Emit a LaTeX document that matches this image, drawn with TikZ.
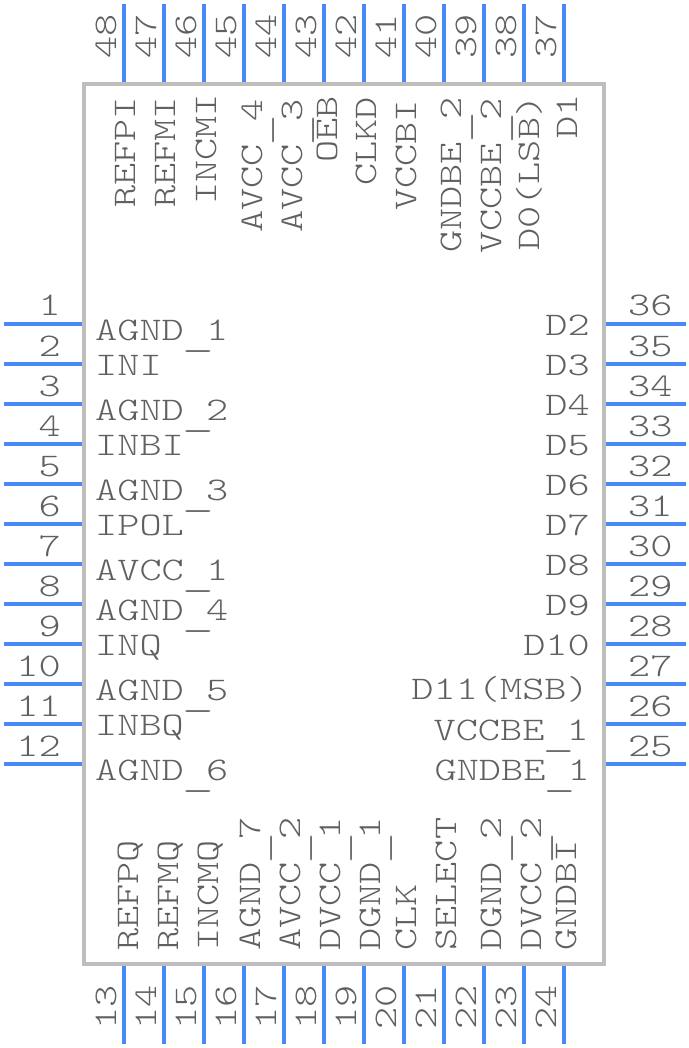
\documentclass[tikz,border=0pt]{standalone}
\usepackage{fontspec}
\setmonofont[FakeStretch=1.28]{Latin Modern Mono Light}
\definecolor{pinblue}{HTML}{4689FA}
\definecolor{bodygray}{HTML}{BEBEBE}
\definecolor{txtgray}{HTML}{606060}
\newcommand{\lowbar}{\raisebox{-6pt}{\makebox[0pt][l]{\hspace*{-2pt}\scalebox{1.45}[1]{\_}}}\hspace{0.525em}\hspace{0.147em}}
\tikzset{
  pinline/.style={draw=pinblue,line width=4pt},
  bodybox/.style={draw=bodygray,line width=4pt,fill=white,inner sep=0pt,minimum width=520pt,minimum height=880pt},
  lab/.style={text=txtgray,inner sep=0pt,font=\ttfamily\fontsize{33}{33}\selectfont},
  labL/.style={lab,anchor=base west},
  labR/.style={lab,anchor=base east},
  labV/.style={lab,anchor=base west,rotate=90}
}
\begin{document}
\begin{tikzpicture}[x=1pt,y=-1pt]
\useasboundingbox (0,0) rectangle (688,1048);
\node[bodybox] (body) at (344,524) {};
% left and right pins
\foreach \i in {0,...,11}{
  \pgfmathsetmacro{\yy}{324+40*\i}
  \coordinate (la\i) at (4,\yy); \coordinate (lb\i) at (82,\yy);
  \coordinate (ra\i) at (606,\yy); \coordinate (rb\i) at (686,\yy);
  \draw[pinline] (la\i) -- (lb\i);
  \draw[pinline] (ra\i) -- (rb\i);
}
% top and bottom pins
\foreach \i in {0,...,11}{
  \pgfmathsetmacro{\xx}{124+40*\i}
  \coordinate (ta\i) at (\xx,4); \coordinate (tb\i) at (\xx,82);
  \coordinate (ba\i) at (\xx,966); \coordinate (bb\i) at (\xx,1044);
  \draw[pinline] (ta\i) -- (tb\i);
  \draw[pinline] (ba\i) -- (bb\i);
}
% pin numbers
\foreach \i [count=\k from 0] in {1,...,12}{
  \node[labR] (nl\i) at (61,316+40*\k) {\i};
}
\foreach \i [count=\k from 0] in {36,35,...,25}{
  \node[labL] (nr\i) at (628,316+40*\k) {\i};
}
\foreach \i [count=\k from 0] in {48,47,...,37}{
  \node[labV] (nt\i) at (116+40*\k,59) {\i};
}
\foreach \i [count=\k from 0] in {13,14,...,24}{
  \node[labV] (nb\i) at (116+40*\k,1030) {\i};
}
% left labels
\foreach \yy/\t [count=\k] in {
  340/AGND\lowbar 1,375/INI,420/AGND\lowbar 2,455/INBI,500/AGND\lowbar 3,535/IPOL,
  580/AVCC\lowbar 1,620/AGND\lowbar 4,655/INQ,700/AGND\lowbar 5,735/INBQ,780/AGND\lowbar 6}{
  \node[labL] (ll\k) at (95,\yy) {\t};
}
% right labels
\foreach \yy/\t/\xx [count=\k] in {
  335/D2/590,375/D3/590,415/D4/590,455/D5/590,495/D6/590,535/D7/590,575/D8/590,615/D9/590,655/D10/590,
  699/D11(MSB)/589,740/VCCBE\lowbar 1/589,780/GNDBE\lowbar 1/590}{
  \node[labR] (rl\k) at (\xx,\yy) {\t};
}
% top labels
\foreach \xx/\yy/\t [count=\k] in {
  135/208/REFPI,175/208/REFMI,216/205/INCMI,262/233/AVCC\lowbar 4,302/233/AVCC\lowbar 3,
  337/163/OEB,376/186/CLKD,416/211/VCCBI,461/253/GNDBE\lowbar 2,501/254/VCCBE\lowbar 2,
  539/251/D0(LSB),577/139/D1}{
  \node[labV] (tl\k) at (\xx,\yy) {\t};
}
% bottom labels
\foreach \xx/\t [count=\k] in {
  138/REFPQ,178/REFMQ,218/INCMQ,260/AGND\lowbar 7,300/AVCC\lowbar 2,340/DVCC\lowbar 1,380/DGND\lowbar 1,
  416/CLK,456/SELECT,501/DGND\lowbar 2,541/DVCC\lowbar 2,576/GNDBI}{
  \node[labV] (bl\k) at (\xx,951) {\t};
}
\end{tikzpicture}
\end{document}
